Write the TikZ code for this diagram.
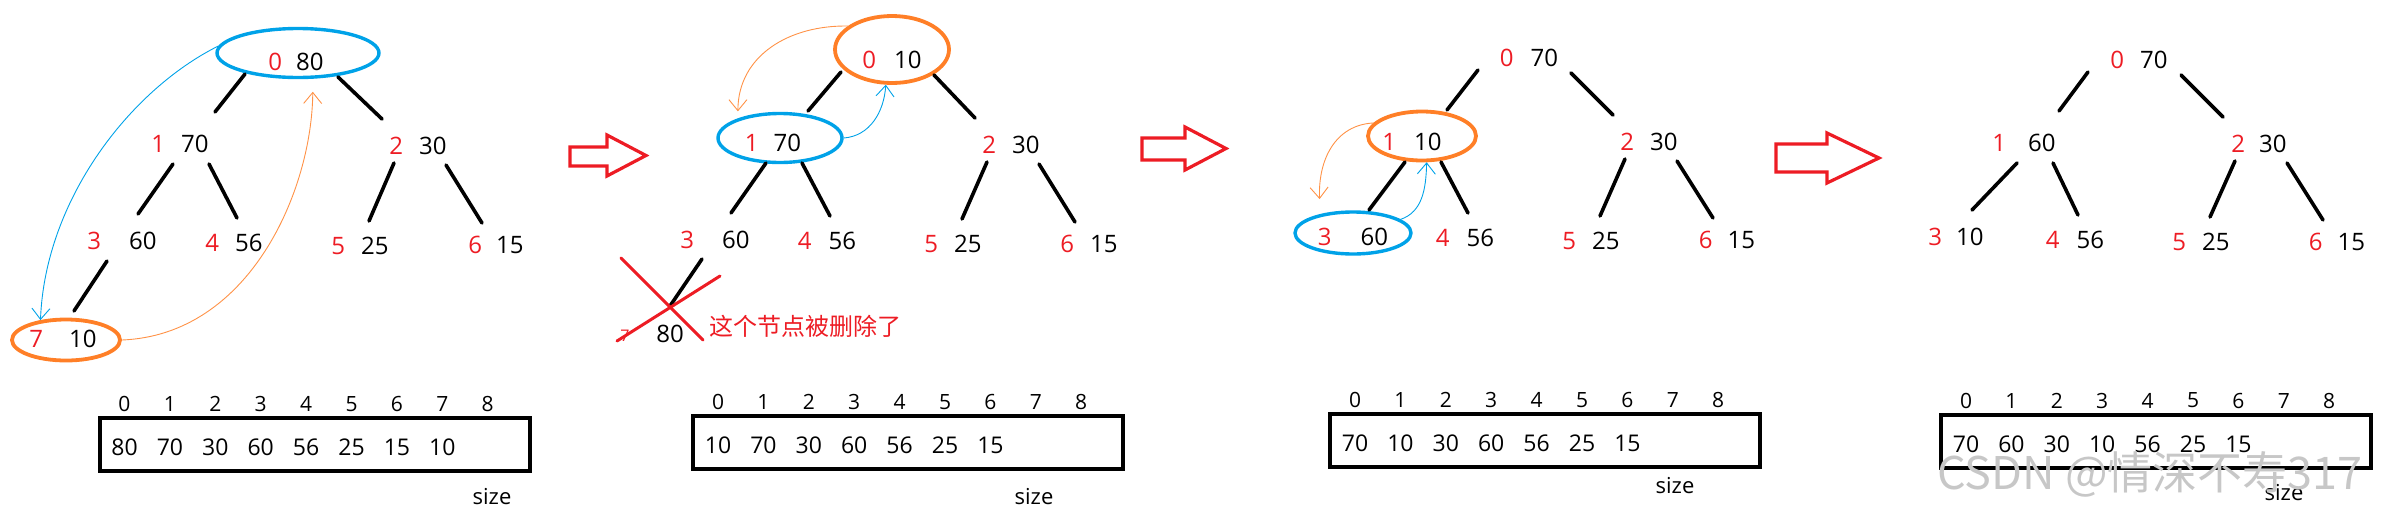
\documentclass[tikz,border=0pt]{standalone}
\usepackage{fontspec}
\setmainfont{Open Sans}
\newfontfamily\cjkfont{Noto Sans CJK SC}
\usetikzlibrary{shapes.geometric,arrows.meta}
\definecolor{idxred}{HTML}{ED1C24}
\definecolor{ovalblue}{HTML}{00A2E8}
\definecolor{ovalorange}{HTML}{FF7F27}
\begin{document}
\begin{tikzpicture}[
				line join = round,line cap = round,>={Straight Barb[length=11pt,width=18pt]},x=1pt,y=-1pt,
				elem/.style={inner sep=0pt, minimum height=36pt, font=\fontsize{24}{28}\selectfont},
				treeedge/.style={line width=3.6pt},
				blueoval/.style={ellipse, draw=ovalblue, line width=3.4pt, inner sep=0pt},
				orangeoval/.style={ellipse, draw=ovalorange, line width=3.8pt, inner sep=0pt},
				bluecurve/.style={draw=ovalblue, line width=0.9pt, ->},
				orangecurve/.style={draw=ovalorange!85, line width=0.9pt, ->},
				arraybox/.style={rectangle, draw, line width=4pt, line join=miter, minimum width=430pt, minimum height=53pt},
				idxnum/.style={inner sep=0pt, font=\fontsize{21}{25}\selectfont},
				cellnum/.style={inner sep=0pt, font=\fontsize{23}{27}\selectfont},
				sizelbl/.style={inner sep=0pt, font=\fontsize{22}{26}\selectfont},
				blockarrow/.style={draw=idxred, line width=3.2pt, line join=miter},
				crossline/.style={draw=idxred, line width=3pt},
				note/.style={inner sep=0pt, text=idxred, font=\cjkfont\fontsize{24}{28}\selectfont},
				wmark/.style={inner sep=0pt, text=black!22, font=\cjkfont\fontsize{45}{50}\selectfont}]
				\useasboundingbox (0,0) rectangle (2382,512);
				% heap before the delete
				\node at (296,62) (nodeA0) [elem] {\textcolor{idxred}{0}\hspace{14pt}80};
				\node at (180,144) (nodeA1) [elem] {\textcolor{idxred}{1}\hspace{16pt}70};
				\node at (418,146) (nodeA2) [elem] {\textcolor{idxred}{2}\hspace{16pt}30};
				\node at (122,241) (nodeA3) [elem] {\textcolor{idxred}{3}\hspace{28pt}60};
				\node at (234,243) (nodeA4) [elem] {\textcolor{idxred}{4}\hspace{16pt}56};
				\node at (360,246) (nodeA5) [elem] {\textcolor{idxred}{5}\hspace{16pt}25};
				\node at (496,245) (nodeA6) [elem] {\textcolor{idxred}{6}\hspace{14pt}15};
				\node at (63,339) (nodeA7) [elem] {\textcolor{idxred}{7}\hspace{26pt}10};
				\node at (298,53) (ovalA0) [blueoval, minimum width=162pt, minimum height=49pt] {};
				\node at (66,340) (ovalA7) [orangeoval, minimum width=108pt, minimum height=41pt] {};
				\draw[treeedge] ([shift={(-15,20)}]nodeA3.center) -- ([shift={(11,-28)}]nodeA7.center);
				\draw[bluecurve] (ovalA0.175) .. controls (130,90) and (45,200) .. (ovalA7.142);
				\draw[orangecurve, shorten >=13pt] (ovalA7.east) .. controls (250,335) and (312,190) .. (ovalA0.-60);
				% swap root and last, drop the last
				\draw[blockarrow] (570,147) -- (607,147) -- (607,135) -- (646,155.5) -- (607,176) -- (607,166) -- (570,166) -- cycle;
				\node at (892,60) (nodeB0) [elem] {\textcolor{idxred}{0}\hspace{18pt}10};
				\node at (773,143) (nodeB1) [elem] {\textcolor{idxred}{1}\hspace{15pt}70};
				\node at (1011,145) (nodeB2) [elem] {\textcolor{idxred}{2}\hspace{16pt}30};
				\node at (715,240) (nodeB3) [elem] {\textcolor{idxred}{3}\hspace{28pt}60};
				\node at (827,241) (nodeB4) [elem] {\textcolor{idxred}{4}\hspace{17pt}56};
				\node at (953,244) (nodeB5) [elem] {\textcolor{idxred}{5}\hspace{16pt}25};
				\node at (1089,244) (nodeB6) [elem] {\textcolor{idxred}{6}\hspace{16pt}15};
				\node at (670,334) (delB) [elem] {80};
				\node at (625,336) (delidx) [inner sep=0pt, text=idxred, font=\fontsize{16}{18}\selectfont] {7};
				\node at (709,326) (delnote) [note, anchor=west] {这个节点被删除了};
				\node at (892,49.5) (ovalB0) [orangeoval, minimum width=114pt, minimum height=67pt] {};
				\node at (780,138) (ovalB1) [blueoval, minimum width=124pt, minimum height=49pt] {};
				\draw[treeedge] ([shift={(-13,19)}]nodeB3.center) -- ([shift={(0,-28)}]delB.center);
				\draw[crossline] (621,258) -- (703,340);
				\draw[crossline] (617,341) -- (720,276);
				\draw[orangecurve, shorten >=7pt] (ovalB0.152) .. controls (790,25) and (738,55) .. (ovalB1.155);
				\draw[bluecurve] (ovalB1.east) .. controls (870,136) and (884,112) .. (ovalB0.-100);
				% sift down, first step
				\draw[blockarrow] (1142,138) -- (1185,138) -- (1185,127) -- (1226,148.5) -- (1185,170) -- (1185,160) -- (1142,160) -- cycle;
				\node at (1529,58) (nodeC0) [elem] {\textcolor{idxred}{0}\hspace{17pt}70};
				\node at (1412,142) (nodeC1) [elem] {\textcolor{idxred}{1}\hspace{18pt}10};
				\node at (1649,142) (nodeC2) [elem] {\textcolor{idxred}{2}\hspace{16pt}30};
				\node at (1353,237) (nodeC3) [elem] {\textcolor{idxred}{3}\hspace{29pt}60};
				\node at (1465,238) (nodeC4) [elem] {\textcolor{idxred}{4}\hspace{17pt}56};
				\node at (1591,241) (nodeC5) [elem] {\textcolor{idxred}{5}\hspace{16pt}25};
				\node at (1727,240) (nodeC6) [elem] {\textcolor{idxred}{6}\hspace{15pt}15};
				\node at (1422,136) (ovalC1) [orangeoval, minimum width=108pt, minimum height=49pt] {};
				\node at (1353,233) (ovalC3) [blueoval, minimum width=116pt, minimum height=42pt] {};
				\draw[orangecurve, shorten >=15pt] (ovalC1.165) .. controls (1335,125) and (1318,160) .. (ovalC3.150);
				\draw[bluecurve] (ovalC3.16) .. controls (1422,212) and (1426,190) .. (ovalC1.-80);
				% heap again
				\draw[blockarrow] (1776,144) -- (1827,144) -- (1827,133) -- (1879,158) -- (1827,183) -- (1827,172) -- (1776,172) -- cycle;
				\node at (2139,60) (nodeD0) [elem] {\textcolor{idxred}{0}\hspace{16pt}70};
				\node at (2024,143) (nodeD1) [elem] {\textcolor{idxred}{1}\hspace{22pt}60};
				\node at (2259,144) (nodeD2) [elem] {\textcolor{idxred}{2}\hspace{14pt}30};
				\node at (1956,237) (nodeD3) [elem] {\textcolor{idxred}{3}\hspace{14pt}10};
				\node at (2075,240) (nodeD4) [elem] {\textcolor{idxred}{4}\hspace{17pt}56};
				\node at (2201,242) (nodeD5) [elem] {\textcolor{idxred}{5}\hspace{16pt}25};
				\node at (2337,242) (nodeD6) [elem] {\textcolor{idxred}{6}\hspace{15pt}15};
				\foreach \p in {A,B,C,D}{
					\draw[treeedge] ([shift={(-51,12)}]node\p0.center) -- ([shift={(35,-32)}]node\p1.center);
					\draw[treeedge] ([shift={(42,15)}]node\p0.center) -- ([shift={(-36,-27)}]node\p2.center);
					\draw[treeedge] ([shift={(-7,20)}]node\p1.center) -- ([shift={(16,-27)}]node\p3.center);
					\draw[treeedge] ([shift={(29,20)}]node\p1.center) -- ([shift={(3,-25)}]node\p4.center);
					\draw[treeedge] ([shift={(-24,17)}]node\p2.center) -- ([shift={(9,-25)}]node\p5.center);
					\draw[treeedge] ([shift={(28,19)}]node\p2.center) -- ([shift={(-14,-22)}]node\p6.center);
				}
				% the arrays
				\node at (314.5,444.5) (boxA) [arraybox] {};
				\node at (908,442.5) (boxB) [arraybox] {};
				\node at (1545,440.5) (boxC) [arraybox] {};
				\node at (2156,441) (boxD) [arraybox] {};
				\foreach \p in {A,B,C,D}
					\foreach \i in {0,...,8}
						\node at ([shift={({27+45.4*\i},-40.5)}]box\p.west) (idx\p\i) [idxnum] {\i};
				\foreach \v [count=\i from 0] in {80,70,30,60,56,25,15,10}
					\node at ([shift={({27+45.4*\i},3)}]boxA.west) (valA\i) [cellnum] {\v};
				\foreach \v [count=\i from 0] in {10,70,30,60,56,25,15}
					\node at ([shift={({27+45.4*\i},3)}]boxB.west) (valB\i) [cellnum] {\v};
				\foreach \v [count=\i from 0] in {70,10,30,60,56,25,15}
					\node at ([shift={({27+45.4*\i},3)}]boxC.west) (valC\i) [cellnum] {\v};
				\foreach \v [count=\i from 0] in {70,60,30,10,56,25,15}
					\node at ([shift={({27+45.4*\i},3)}]boxD.west) (valD\i) [cellnum] {\v};
				\node at (492,497) (sizeA) [sizelbl] {size};
				\node at (1034,497) (sizeB) [sizelbl] {size};
				\node at (1675,486) (sizeC) [sizelbl] {size};
				\node at (2284,493) (sizeD) [sizelbl] {size};
				\node at (1937,489) (watermark) [wmark, anchor=base west] {CSDN @情深不寿317};
			\end{tikzpicture}
\end{document}
